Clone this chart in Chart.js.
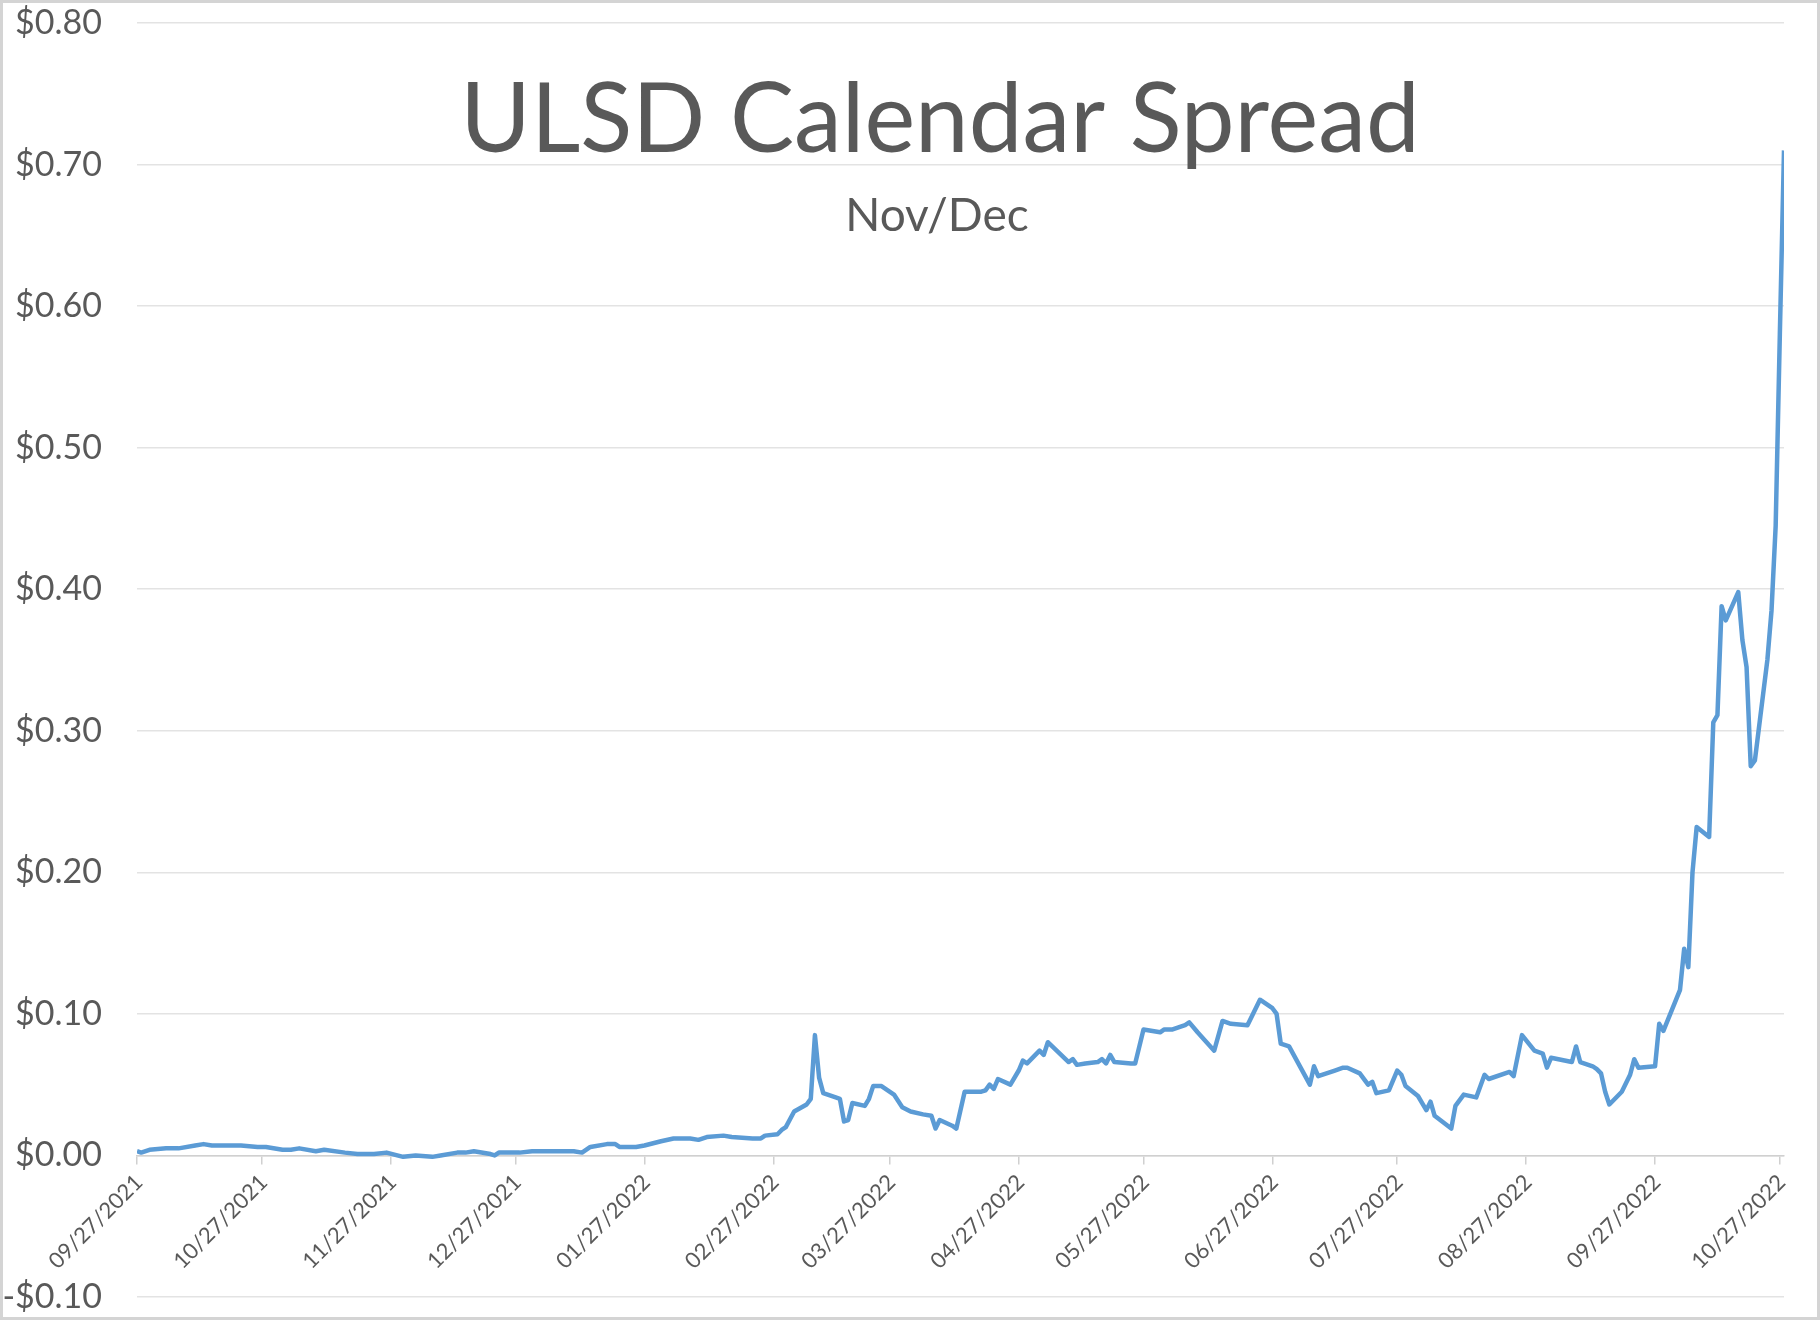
<!DOCTYPE html>
<html>
<head>
<meta charset="utf-8">
<script src="https://cdn.jsdelivr.net/npm/chart.js@4.4.1/dist/chart.umd.min.js"></script>
<style>
html,body{margin:0;padding:0;background:#fff;}
#wrap{width:1820px;height:1320px;position:relative;}
canvas{display:block;}
</style>
</head>
<body>
<div id="wrap"><canvas id="c" width="1820" height="1320"></canvas></div>
<script>
const chartTitle = 'ULSD Calendar Spread';
const chartSubtitle = 'Nov/Dec';

const dates = [
 '2021-09-27','2021-09-28','2021-09-30','2021-10-04','2021-10-07','2021-10-11','2021-10-13','2021-10-15','2021-10-19','2021-10-22',
 '2021-10-26','2021-10-28','2021-11-01','2021-11-03','2021-11-05','2021-11-09','2021-11-11','2021-11-16','2021-11-19','2021-11-23',
 '2021-11-26','2021-11-30','2021-12-03','2021-12-07','2021-12-09','2021-12-13','2021-12-15','2021-12-17','2021-12-21','2021-12-22',
 '2021-12-23','2021-12-28','2021-12-31','2022-01-05','2022-01-10','2022-01-12','2022-01-14','2022-01-18','2022-01-20','2022-01-21',
 '2022-01-25','2022-01-27','2022-01-31','2022-02-03','2022-02-07','2022-02-09','2022-02-11','2022-02-15','2022-02-17','2022-02-22',
 '2022-02-24','2022-02-25','2022-02-28','2022-03-01','2022-03-02','2022-03-04','2022-03-07','2022-03-08','2022-03-09','2022-03-10',
 '2022-03-11','2022-03-14','2022-03-15','2022-03-16','2022-03-17','2022-03-18','2022-03-21','2022-03-22','2022-03-23','2022-03-25',
 '2022-03-28','2022-03-30','2022-04-01','2022-04-04','2022-04-06','2022-04-07','2022-04-08','2022-04-11','2022-04-12','2022-04-14',
 '2022-04-18','2022-04-19','2022-04-20','2022-04-21','2022-04-22','2022-04-25','2022-04-27','2022-04-28','2022-04-29','2022-05-02',
 '2022-05-03','2022-05-04','2022-05-09','2022-05-10','2022-05-11','2022-05-13','2022-05-16','2022-05-17','2022-05-18','2022-05-19',
 '2022-05-20','2022-05-24','2022-05-25','2022-05-27','2022-05-31','2022-06-01','2022-06-03','2022-06-06','2022-06-07','2022-06-09',
 '2022-06-13','2022-06-15','2022-06-17','2022-06-21','2022-06-24','2022-06-27','2022-06-28','2022-06-29','2022-07-01','2022-07-06',
 '2022-07-07','2022-07-08','2022-07-12','2022-07-14','2022-07-15','2022-07-18','2022-07-20','2022-07-21','2022-07-22','2022-07-25',
 '2022-07-27','2022-07-28','2022-07-29','2022-08-01','2022-08-02','2022-08-03','2022-08-04','2022-08-05','2022-08-09','2022-08-10',
 '2022-08-12','2022-08-15','2022-08-17','2022-08-18','2022-08-23','2022-08-24','2022-08-26','2022-08-29','2022-08-31','2022-09-01',
 '2022-09-02','2022-09-07','2022-09-08','2022-09-09','2022-09-12','2022-09-13','2022-09-14','2022-09-15','2022-09-16','2022-09-19',
 '2022-09-21','2022-09-22','2022-09-23','2022-09-27','2022-09-28','2022-09-29','2022-10-03','2022-10-04','2022-10-05','2022-10-06',
 '2022-10-07','2022-10-10','2022-10-11','2022-10-12','2022-10-13','2022-10-14','2022-10-17','2022-10-18','2022-10-19','2022-10-20',
 '2022-10-21','2022-10-24','2022-10-25','2022-10-26','2022-10-27','2022-10-28'
];

const spread = [
 0.003,0.002,0.004,0.005,0.005,0.007,0.008,0.007,0.007,0.007,
 0.006,0.006,0.004,0.004,0.005,0.003,0.004,0.002,0.001,0.001,
 0.002,-0.001,0.000,-0.001,0.000,0.002,0.002,0.003,0.001,0.000,
 0.002,0.002,0.003,0.003,0.003,0.002,0.006,0.008,0.008,0.006,
 0.006,0.007,0.010,0.012,0.012,0.011,0.013,0.014,0.013,0.012,
 0.012,0.014,0.015,0.018,0.020,0.031,0.036,0.040,0.085,0.055,
 0.044,0.041,0.040,0.024,0.025,0.037,0.035,0.040,0.049,0.049,
 0.043,0.034,0.031,0.029,0.028,0.019,0.025,0.021,0.019,0.045,
 0.045,0.046,0.050,0.047,0.054,0.050,0.060,0.067,0.065,0.074,
 0.071,0.080,0.066,0.068,0.064,0.065,0.066,0.068,0.065,0.071,
 0.066,0.065,0.065,0.089,0.087,0.089,0.089,0.092,0.094,0.087,
 0.074,0.095,0.093,0.092,0.110,0.104,0.100,0.079,0.077,0.050,
 0.063,0.056,0.060,0.062,0.062,0.058,0.050,0.052,0.044,0.046,
 0.060,0.057,0.049,0.042,0.037,0.032,0.038,0.028,0.019,0.035,
 0.043,0.041,0.057,0.054,0.059,0.056,0.085,0.074,0.072,0.062,
 0.069,0.066,0.077,0.066,0.063,0.061,0.058,0.045,0.036,0.045,
 0.057,0.068,0.062,0.063,0.093,0.088,0.117,0.146,0.133,0.200,
 0.232,0.225,0.306,0.311,0.388,0.378,0.398,0.364,0.345,0.275,
 0.279,0.350,0.385,0.445,0.580,0.710
];

const tickLabels = ['09/27/2021','10/27/2021','11/27/2021','12/27/2021','01/27/2022','02/27/2022','03/27/2022',
 '04/27/2022','05/27/2022','06/27/2022','07/27/2022','08/27/2022','09/27/2022','10/27/2022'];

const DAY = 86400000;
const ORIGIN = Date.UTC(2021, 8, 27);
function dayFromISO(s){ const [y,m,d] = s.split('-').map(Number); return Math.round((Date.UTC(y,m-1,d)-ORIGIN)/DAY); }
function dayFromLabel(s){ const [m,d,y] = s.split('/').map(Number); return Math.round((Date.UTC(y,m-1,d)-ORIGIN)/DAY); }

const points = dates.map((d,i)=>({x: dayFromISO(d), y: spread[i]}));
const tickDays = tickLabels.map(dayFromLabel);
const lastDay = dayFromISO(dates[dates.length-1]);

const FONT = 'Lato, "Open Sans", sans-serif';
const TXT = '#595959';
const AREA = { top: 23, bottom: 1297, left: 137, right: 1784 };

const titlePlugin = {
  id: 'titleText',
  afterDraw(chart){
    const c = chart.ctx;
    c.save();
    c.fillStyle = TXT;
    c.textAlign = 'center';
    c.textBaseline = 'alphabetic';
    c.font = '96px ' + FONT;
    c.fillText(chartTitle, 940, 152);
    c.font = '46px ' + FONT;
    c.fillText(chartSubtitle, 937, 231);
    c.restore();
  }
};
const framePlugin = {
  id: 'frame',
  afterDraw(chart){
    const c = chart.ctx;
    c.save();
    c.strokeStyle = '#d4d4d4';
    c.lineWidth = 3;
    c.strokeRect(1.5, 1.5, chart.width-3, chart.height-3);
    c.restore();
  }
};

const layoutPadding = { top: AREA.top, bottom: 1320 - AREA.bottom, right: 1820 - AREA.right, left: 0 };

const options = {
  responsive: false,
  animation: false,
  events: [],
  layout: { padding: layoutPadding },
  plugins: { legend: { display: false }, tooltip: { enabled: false }, title: { display: false } },
  scales: {
    x: {
      type: 'linear',
      min: 0,
      max: lastDay,
      position: { y: 0 },
      afterBuildTicks: (s) => { s.ticks = tickDays.map(v => ({ value: v })); },
      ticks: {
        autoSkip: false, minRotation: 45, maxRotation: 45, padding: 6, labelOffset: 2,
        color: TXT, font: { family: FONT, size: 22 },
        callback: (v, i) => tickLabels[i]
      },
      grid: { drawOnChartArea: false, drawTicks: true, tickLength: 8, color: '#d0d0d0', lineWidth: 1.5 },
      border: { display: true, color: '#d0d0d0', width: 1.5 }
    },
    y: {
      min: -0.1, max: 0.8,
      afterFit: (s) => { s.width = AREA.left; },
      ticks: {
        stepSize: 0.1, padding: 0, color: TXT, font: { family: FONT, size: 34 },
        callback: (v) => (v < -1e-9 ? '-$' : '$') + Math.abs(v).toFixed(2)
      },
      grid: { color: '#e3e3e3', lineWidth: 1.5, drawTicks: true, tickLength: 35, tickColor: 'rgba(0,0,0,0)' },
      border: { display: false }
    }
  }
};

function draw(){
  const chart = new Chart(document.getElementById('c'), {
    type: 'line',
    data: { datasets: [{
      data: points,
      borderColor: '#5b9bd5',
      borderWidth: 4.5,
      pointRadius: 0,
      tension: 0,
      fill: false,
      borderJoinStyle: 'round'
    }]},
    options: options,
    plugins: [titlePlugin, framePlugin]
  });
  // nudge the layout padding so the plot area lands where the reference has it
  for (let k = 0; k < 3; k++) {
    const ca = chart.chartArea;
    const dt = AREA.top - ca.top, db = ca.bottom - AREA.bottom, dr = ca.right - AREA.right;
    if (Math.abs(dt) < 0.5 && Math.abs(db) < 0.5 && Math.abs(dr) < 0.5) break;
    layoutPadding.top += dt;
    layoutPadding.bottom += db;
    layoutPadding.right += dr;
    chart.update();
  }
}
if (document.fonts && document.fonts.load) {
  Promise.all([document.fonts.load('96px Lato'), document.fonts.load('22px Lato')]).then(draw, draw);
} else { draw(); }
</script>
</body>
</html>
